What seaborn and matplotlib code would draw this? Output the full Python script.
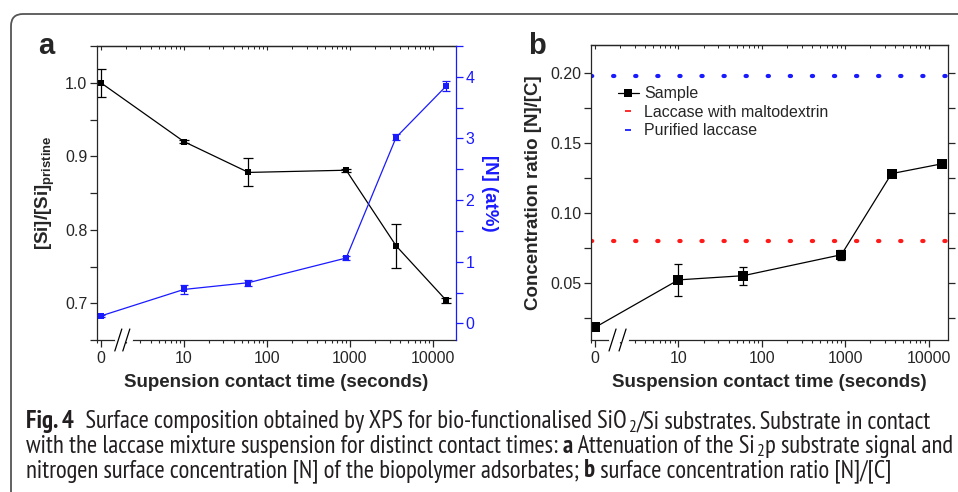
import numpy as np
import matplotlib
matplotlib.use("Agg")
import matplotlib.pyplot as plt
import matplotlib.transforms as mtrans
from matplotlib import font_manager
from matplotlib.patches import FancyBboxPatch
from matplotlib.lines import Line2D
from matplotlib.ticker import LogLocator, FixedLocator, FixedFormatter, MultipleLocator, NullFormatter
import seaborn as sns

# ---------------- data ----------------
time_s = [0, 10, 60, 900, 3600, 14400]
time_ticks = [0, 10, 100, 1000, 10000]
time_tick_labels = ["0", "10", "100", "1000", "10000"]

si_ratio = [1.000, 0.920, 0.878, 0.881, 0.778, 0.704]
si_ratio_err = [0.019, 0.002, 0.019, 0.002, 0.030, 0.003]

n_at = [0.12, 0.55, 0.66, 1.06, 3.02, 3.85]
n_at_err = [0.02, 0.08, 0.05, 0.04, 0.05, 0.08]

nc_ratio = [0.018, 0.052, 0.055, 0.070, 0.128, 0.135]
nc_ratio_err = [0.001, 0.0115, 0.0065, 0.0035, 0.001, 0.002]

ref_maltodextrin = 0.080
ref_purified = 0.198

# ---------------- style ----------------
sns.set_style("ticks")
plt.rcParams["font.family"] = ["Liberation Sans", "DejaVu Sans"]
plt.rcParams["mathtext.fontset"] = "custom"
plt.rcParams["mathtext.rm"] = "Liberation Sans"
plt.rcParams["mathtext.bf"] = "Liberation Sans:bold"
plt.rcParams["axes.linewidth"] = 0.9

W, H = 958, 492
fig = plt.figure(figsize=(W / 100, H / 100), dpi=100)
fig.patch.set_facecolor("white")

BLUE = "#1a1aff"
RED = "#ff1a1a"


def zero_pos(t):
    # 0 s is drawn at the broken-axis origin (one decade left of 10)
    return [1.0 if v == 0 else float(v) for v in t]


x_pos = zero_pos(time_s)
tick_pos = zero_pos(time_ticks)

TICKFS = 11.5
LABELFS = 13.5


def style_xaxis(ax, xlim):
    ax.set_xscale("log")
    ax.set_xlim(*xlim)
    ax.xaxis.set_major_locator(FixedLocator(tick_pos))
    ax.xaxis.set_major_formatter(FixedFormatter(time_tick_labels))
    ax.xaxis.set_minor_locator(LogLocator(base=10, subs=np.arange(2, 10), numticks=20))
    ax.xaxis.set_minor_formatter(NullFormatter())
    ax.tick_params(axis="x", which="major", direction="out", length=5, width=0.9,
                   labelsize=TICKFS, pad=3, top=False)
    ax.tick_params(axis="x", which="minor", direction="out", length=2.5, width=0.8, top=False)
    top = ax.secondary_xaxis("top")
    top.xaxis.set_major_locator(FixedLocator(tick_pos))
    top.xaxis.set_minor_locator(LogLocator(base=10, subs=np.arange(2, 10), numticks=20))
    top.xaxis.set_major_formatter(NullFormatter())
    top.xaxis.set_minor_formatter(NullFormatter())
    top.tick_params(axis="x", which="major", direction="in", length=3, width=0.8)
    top.tick_params(axis="x", which="minor", direction="in", length=2, width=0.7)
    top.spines["top"].set_linewidth(0.9)


def add_break(ax, px0, px_per_dec, p1, p2):
    blend = mtrans.blended_transform_factory(ax.transData, ax.transAxes)
    x1 = 10 ** ((p1 - px0) / px_per_dec)
    x2 = 10 ** ((p2 - px0) / px_per_dec)
    ax.plot([x1, x2], [0, 0], color="white", lw=3, transform=blend, clip_on=False, zorder=6)
    hgt = ax.bbox.height
    for c in (p1 + 1.5, p2 - 4.5):
        xa = 10 ** ((c - 3.5 - px0) / px_per_dec)
        xb = 10 ** ((c + 3.5 - px0) / px_per_dec)
        ax.plot([xa, xb], [-11 / hgt, 11 / hgt], color="black", lw=0.9,
                transform=blend, clip_on=False, zorder=7)


# ---------------- panel a ----------------
axa = fig.add_axes([97 / W, 1 - 340 / H, 359 / W, 294 / H])
sns.lineplot(x=x_pos, y=si_ratio, ax=axa, color="black", marker="s", markersize=4,
             markeredgewidth=0, linewidth=0.9, errorbar=None)
axa.errorbar(x_pos, si_ratio, yerr=si_ratio_err, fmt="none", ecolor="black",
             elinewidth=0.9, capsize=3.5, capthick=0.9)
style_xaxis(axa, (0.9, 18900))
axa.set_ylim(0.65, 1.05)
axa.yaxis.set_major_locator(FixedLocator([0.7, 0.8, 0.9, 1.0]))
axa.yaxis.set_minor_locator(MultipleLocator(0.05))
axa.set_yticklabels(["0.7", "0.8", "0.9", "1.0"])
axa.tick_params(axis="y", which="major", direction="out", length=5, width=0.9,
                labelsize=TICKFS, pad=2)
axa.tick_params(axis="y", which="minor", direction="out", length=5, width=0.9)
axa.spines["right"].set_visible(False)
axa.set_xlabel("Supension contact time (seconds)", fontsize=LABELFS, fontweight="bold", labelpad=6)
axa.set_ylabel(r"[Si]/[Si]$_{\mathbf{pristine}}$", fontsize=LABELFS, fontweight="bold", labelpad=6)

axn = axa.twinx()
sns.lineplot(x=x_pos, y=n_at, ax=axn, color=BLUE, marker="s", markersize=4,
             markeredgewidth=0, linewidth=0.9, errorbar=None)
axn.errorbar(x_pos, n_at, yerr=n_at_err, fmt="none", ecolor=BLUE,
             elinewidth=0.9, capsize=3, capthick=0.9)
axn.set_ylim(-0.27, 4.5)
axn.yaxis.set_major_locator(FixedLocator([0, 1, 2, 3, 4]))
axn.yaxis.set_minor_locator(MultipleLocator(0.5))
axn.set_yticklabels(["0", "1", "2", "3", "4"])
axn.tick_params(axis="y", which="major", direction="out", length=5, width=0.9,
                labelsize=TICKFS, pad=2, colors=BLUE)
axn.tick_params(axis="y", which="minor", direction="out", length=5, width=0.9, colors=BLUE)
axn.spines["right"].set_color(BLUE)
for s in ("left", "top", "bottom"):
    axn.spines[s].set_visible(False)
axn.set_ylabel("[N] (at%)", fontsize=LABELFS, fontweight="bold", color=BLUE,
               rotation=270, labelpad=17)
add_break(axa, 101, 83, 117, 131)
fig.text(46 / W, 1 - 46 / H, "a", fontsize=21, fontweight="bold", ha="center", va="center")

# ---------------- panel b ----------------
axb = fig.add_axes([591 / W, 1 - 340 / H, 357 / W, 295 / H])
axb.axhline(ref_purified, color=BLUE, lw=3.0, linestyle=(0, (0.3, 5.0)),
            dash_capstyle="round")
axb.axhline(ref_maltodextrin, color=RED, lw=3.0, linestyle=(0, (0.3, 5.0)),
            dash_capstyle="round")
sns.lineplot(x=x_pos, y=nc_ratio, ax=axb, color="black", marker="s", markersize=7,
             markeredgewidth=0, linewidth=0.9, errorbar=None)
axb.errorbar(x_pos, nc_ratio, yerr=nc_ratio_err, fmt="none", ecolor="black",
             elinewidth=0.9, capsize=3, capthick=0.9)
style_xaxis(axb, (0.895, 17100))
axb.set_ylim(0.009, 0.22)
axb.yaxis.set_major_locator(FixedLocator([0.05, 0.10, 0.15, 0.20]))
axb.yaxis.set_minor_locator(MultipleLocator(0.025))
axb.set_yticklabels(["0.05", "0.10", "0.15", "0.20"])
axb.tick_params(axis="y", which="both", direction="out", length=5, width=0.9,
                labelsize=TICKFS, pad=2, right=True)
axb.set_xlabel("Suspension contact time (seconds)", fontsize=LABELFS, fontweight="bold", labelpad=6)
axb.set_ylabel("Concentration ratio [N]/[C]", fontsize=LABELFS, fontweight="bold", labelpad=6)
handles = [
    Line2D([], [], color="black", marker="s", markersize=6, markeredgewidth=0, lw=0.9),
    Line2D([], [], color=RED, lw=0, marker="_", markersize=4, markeredgewidth=1.3),
    Line2D([], [], color=BLUE, lw=0, marker="_", markersize=4, markeredgewidth=1.3),
]
axb.legend(handles, ["Sample", "Laccase with maltodextrin", "Purified laccase"],
           loc="upper left", bbox_to_anchor=(0.075, 0.86), frameon=False,
           fontsize=TICKFS, handlelength=1.3, handletextpad=0.35, labelspacing=0.22,
           borderaxespad=0, borderpad=0)
add_break(axb, 595, 83.3, 611, 627)
fig.text(537 / W, 1 - 46 / H, "b", fontsize=21, fontweight="bold", ha="center", va="center")

# ---------------- frame ----------------
frame = FancyBboxPatch((11, -30), 1000, H - 14 + 30, boxstyle="round,pad=0,rounding_size=12",
                       transform=None, facecolor="none", edgecolor="#555555", lw=1.3,
                       clip_on=False)
fig.patches.append(frame)

# ---------------- caption ----------------
cap_family = "DejaVu Sans"
for cand in ["PT Sans Narrow", "Roboto Condensed", "Fira Sans Condensed", "Liberation Sans"]:
    try:
        font_manager.findfont(cand, fallback_to_default=False)
        cap_family = cand
        break
    except Exception:
        continue

renderer = fig.canvas.get_renderer()


def adv(s, fs, weight):
    t1 = fig.text(0, 0, "X" + s + "X", fontsize=fs, fontweight=weight, family=cap_family)
    t2 = fig.text(0, 0, "XX", fontsize=fs, fontweight=weight, family=cap_family)
    w = t1.get_window_extent(renderer).width - t2.get_window_extent(renderer).width
    t1.remove(); t2.remove()
    return w


cap_lines = [
    [("Fig. 4", "bold", 0), ("  Surface composition obtained by XPS for bio-functionalised SiO", "normal", 0),
     ("2", "normal", 1), ("/Si substrates. Substrate in contact", "normal", 0)],
    [("with the laccase mixture suspension for distinct contact times: ", "normal", 0), ("a", "bold", 0),
     (" Attenuation of the Si", "normal", 0), ("2", "normal", 1), ("p substrate signal and", "normal", 0)],
    [("nitrogen surface concentration [N] of the biopolymer adsorbates; ", "normal", 0), ("b", "bold", 0),
     (" surface concentration ratio [N]/[C]", "normal", 0)],
]
cap_baseline = [428, 453, 477]
CAP_X0, CAP_X1 = 26, 954
base_fs = 12.0
SUB_GAP = 1.2


def line_width(pieces, fs):
    return sum(adv(s, fs * (0.7 if sub else 1), w) + (2 * SUB_GAP if sub else 0)
               for s, w, sub in pieces)


cap_fs = base_fs * (CAP_X1 - CAP_X0) / line_width(cap_lines[1], base_fs)
for pieces, yb in zip(cap_lines, cap_baseline):
    x = CAP_X0
    for s, w, sub in pieces:
        fs = cap_fs * (0.7 if sub else 1)
        dy = 3.5 if sub else 0
        if sub:
            x += SUB_GAP
        fig.text(x / W, 1 - (yb + dy) / H, s, fontsize=fs, fontweight=w, family=cap_family,
                 va="baseline", ha="left", color="#231f20")
        x += adv(s, fs, w) + (SUB_GAP if sub else 0)

fig.savefig("out.png", dpi=100, facecolor="white")
